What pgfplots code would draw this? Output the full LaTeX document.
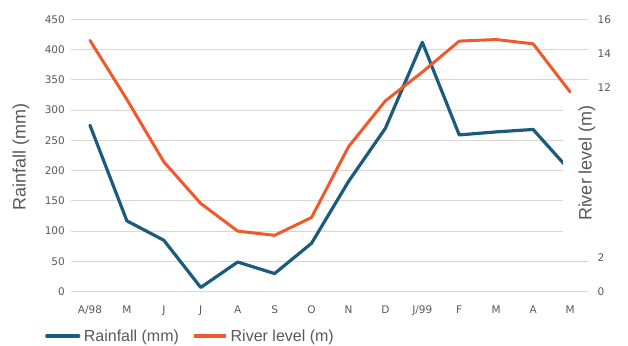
\documentclass[border=0pt]{standalone}
\usepackage{pgfplots}
\pgfplotsset{compat=1.18}
\usepackage{fontspec}
\setmainfont{Liberation Sans}
\newfontfamily\tickfont{DejaVu Sans}

\definecolor{rainblue}{HTML}{1B5C7E}
\definecolor{riverorange}{HTML}{EE5A2B}
\definecolor{gridgrey}{HTML}{DCD7D3}
\definecolor{labelgrey}{HTML}{595959}

% monthly rainfall (mm), April 1998 - May 1999
\pgfplotstableread{
idx rain
0   275
1   117
2   85
3   7
4   49
5   30
6   80
7   182
8   270
9   412
10  259
11  264
12  268
13  200
}\raintable

% monthly river level (m)
\pgfplotstableread{
idx level
0   14.76
1   11.29
2   7.63
3   5.18
4   3.56
5   3.31
6   4.36
7   8.51
8   11.21
9   12.90
10  14.72
11  14.81
12  14.56
13  11.74
}\rivertable

\pgfplotsset{
  common/.style={
    width=517pt, height=272.4pt, scale only axis,
    at={(0pt,0pt)}, anchor=south west,
    xmin=-0.5, xmax=13.5,
    axis line style={draw=none},
    major tick length=0pt,
    tick style={draw=none},
    /pgf/number format/assume math mode=true,
    ticklabel style={font=\tickfont\fontsize{10.5}{12}\selectfont, text=labelgrey},
  },
}

\begin{document}
\begin{tikzpicture}
\useasboundingbox (-71.5pt,-53.3pt) rectangle (556.5pt,291.7pt);

\begin{axis}[
  common,
  ymin=0, ymax=450,
  ytick={0,50,...,450},
  ymajorgrids,
  grid style={gridgrey, line width=0.9pt},
  xtick={0,...,13},
  xticklabels={A/98,M,J,J,A,S,O,N,D,J/99,F,M,A,M},
  xticklabel style={anchor=base, yshift=-22pt, inner sep=0pt},
  yticklabel style={anchor=east, xshift=-6.5pt, inner sep=0pt},
  ylabel={Rainfall (mm)},
  every axis y label/.style={at={(rel axis cs:-0.0977,0.4945)}, rotate=90, anchor=center,
    font=\fontsize{18}{20}\selectfont, text=labelgrey},
  legend columns=2,
  legend image code/.code={\draw[#1] (0pt,0pt) -- (32pt,0pt);},
  legend style={at={(rel axis cs:-0.0513,-0.1626)}, anchor=west, draw=none, fill=none,
    inner sep=0pt, row sep=0pt,
    font=\fontsize{16}{18}\selectfont, text=labelgrey,
    nodes={inner sep=0pt},
    /tikz/every odd column/.append style={column sep=3.5pt},
    /tikz/every even column/.append style={column sep=13pt}},
]
\addplot[rainblue, line width=3.2pt, line join=round, line cap=round] table[x=idx, y=rain] {\raintable};
\addlegendentry{Rainfall (mm)}
\addlegendimage{riverorange, line width=3.2pt}
\addlegendentry{River level (m)}
\end{axis}

\begin{axis}[
  common,
  ymin=0, ymax=16,
  axis x line=none,
  axis y line*=right,
  ytick={0,2,12,14,16},
  yticklabel style={anchor=west, xshift=9pt, inner sep=0pt},
  ylabel={River level (m)},
  every axis y label/.style={at={(rel axis cs:0.997,0.4725)}, rotate=90, anchor=center,
    font=\fontsize{18}{20}\selectfont, text=labelgrey},
]
% white panel behind the right-hand title
\fill[white] (rel axis cs:0.9507,0.1714) rectangle (rel axis cs:1,0.7037);
\addplot[riverorange, line width=3pt, line join=round, line cap=round] table[x=idx, y=level] {\rivertable};
\end{axis}
\end{tikzpicture}
\end{document}
